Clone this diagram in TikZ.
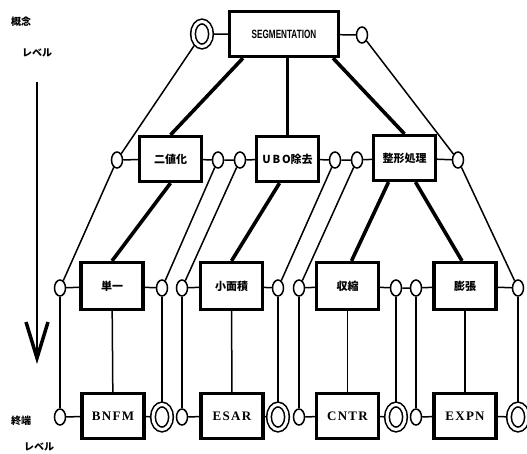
\documentclass[tikz,border=0pt]{standalone}
\usepackage{fontspec}
\newfontfamily\jpfont{Noto Sans CJK JP}
\newfontfamily\codefont[LetterSpace=10]{Liberation Serif}
\newfontfamily\capfont{Liberation Sans}
\usetikzlibrary{positioning,shapes.geometric,arrows.meta}

\begin{document}
\begin{tikzpicture}[x=1pt, y=-1pt,
  proc/.style={draw, line width=3.2pt, minimum width=62pt, minimum height=45pt, inner sep=0pt, font=\jpfont\bfseries\fontsize{11}{12}\selectfont},
  term/.style={proc, font=\codefont\bfseries\fontsize{13}{14}\selectfont},
  port/.style={ellipse, draw, line width=1.5pt, minimum width=11pt, minimum height=16pt, inner sep=0pt},
  dport/.style={ellipse, draw, line width=1.6pt, double, double distance=3pt, minimum width=18pt, minimum height=25pt, inner sep=0pt, outer sep=3pt},
  link/.style={line width=1.5pt},
  trunk/.style={line width=3.6pt},
  lvl/.style={font=\jpfont\bfseries\fontsize{10}{11}\selectfont}
]
  \useasboundingbox (0,0) rectangle (527,453);

  % level labels
  \node[lvl] (top) at (21,22) {概念};
  \node[lvl] (toplv) at (37,53) {レベル};
  \node[lvl] (bot) at (21,421) {終端};
  \node[lvl] (botlv) at (39,447) {レベル};
  \coordinate (ahead) at (37,82);
  \coordinate (atail) at (37,364);
  \draw[line width=2.4pt, -{Straight Barb[length=36pt, width=22pt, line width=3.5pt]}] (ahead) -- (atail);

  % top
  \node[proc, minimum width=109pt, font=\capfont\bfseries\fontsize{12}{13}\selectfont] (seg) at (284,34) {\scalebox{0.68}[1]{SEGMENTATION}};
  \node[dport] (dseg) at (202,34) {};
  \node[port] (cseg) at (362,35) {};

  % second row
  \node[proc] (bin) at (170.5,159) {二値化};
  \node[proc] (ubo) at (287.5,159) {U\,B\,O除去};
  \node[proc] (fmt) at (404.5,158) {整形処理};
  \foreach \n/\x in {a/117, b/218, c/240, d/335, e/357, f/458}
    \node[port] (p2\n) at (\x,160) {};

  % third row
  \node[proc, minimum height=47pt] (sgl) at (112,286) {単一};
  \node[proc, minimum height=47pt] (sma) at (231.5,286) {小面積};
  \node[proc, minimum height=47pt] (shr) at (347.5,286) {収縮};
  \node[proc, minimum height=47pt] (exn) at (465,286) {膨張};
  \foreach \n/\x in {a/60, b/162, c/182, d/278, e/299, f/396, g/416, h/518}
    \node[port] (p3\n) at (\x,288) {};

  % terminal row
  \node[term] (bnfm) at (113,416) {BNFM};
  \node[term] (esar) at (232,416) {ESAR};
  \node[term] (cntr) at (347.5,416) {CNTR};
  \node[term] (expn) at (465,416) {EXPN};
  \foreach \n/\x in {a/60, c/182, e/299, g/416}
    \node[port] (p4\n) at (\x,417) {};
  \foreach \n/\x in {b/162, d/278, f/396, h/518}
    \node[dport] (p4\n) at (\x,417) {};

  % connectors
  \draw[link] (dseg) -- (seg) -- (cseg);
  \draw[link] (dseg) -- (p2a);
  \draw[link] (cseg) -- (p2f);
  \draw[trunk] ([xshift=-41pt]seg.south) -- (bin.north);
  \draw[trunk] ([xshift=49pt]seg.south) -- (fmt.north);
  \draw[line width=2.2pt] (ubo.north) -- (ubo.north |- seg.south);

  \draw[link] (p2a) -- (bin) -- (p2b) -- (p2c) -- (ubo) -- (p2d) -- (p2e) -- (fmt) -- (p2f);
  \foreach \n/\m in {a/a, b/b, c/c, d/d, e/e, f/h}
    \draw[link] (p2\n) -- (p3\m);
  \draw[trunk] (bin.south) -- (sgl.north);
  \draw[trunk] ([xshift=-8pt]ubo.south) -- (sma.north);
  \draw[trunk] ([xshift=-16pt]fmt.south) -- ([xshift=4pt]shr.north);
  \draw[trunk] ([xshift=11pt]fmt.south) -- ([xshift=-3pt]exn.north);

  \draw[link] (p3a) -- (sgl) -- (p3b);
  \draw[link] (p3c) -- (sma) -- (p3d);
  \draw[link] (p3e) -- (shr) -- (p3f) -- (p3g) -- (exn) -- (p3h);
  \foreach \n in {a,b,c,d,e,f,g,h}
    \draw[link] (p3\n) -- (p4\n);
  \draw[link] (sgl) -- (bnfm);
  \draw[link] (sma) -- (esar);
  \draw[link] (shr) -- (cntr);
  \draw[link] (exn) -- (expn);

  \draw[link] (p4a) -- (bnfm) -- (p4b);
  \draw[link] (p4c) -- (esar) -- (p4d);
  \draw[link] (p4e) -- (cntr) -- (p4f);
  \draw[link] (p4g) -- (expn) -- (p4h);
\end{tikzpicture}
\end{document}
